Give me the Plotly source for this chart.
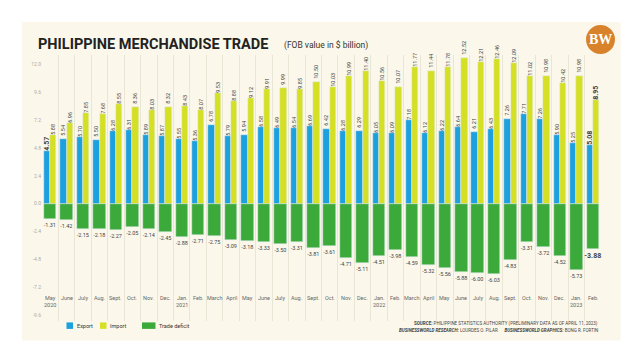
import plotly.graph_objects as go

periods = ["2020-05","2020-06","2020-07","2020-08","2020-09","2020-10","2020-11","2020-12",
           "2021-01","2021-02","2021-03","2021-04","2021-05","2021-06","2021-07","2021-08",
           "2021-09","2021-10","2021-11","2021-12","2022-01","2022-02","2022-03","2022-04",
           "2022-05","2022-06","2022-07","2022-08","2022-09","2022-10","2022-11","2022-12",
           "2023-01","2023-02"]
month_labels = ["May<br>2020","June","July","Aug.","Sept.","Oct.","Nov.","Dec.",
                "Jan.<br>2021","Feb.","March","April","May","June","July","Aug.",
                "Sept.","Oct.","Nov.","Dec.","Jan.<br>2022","Feb.","March","April",
                "May","June","July","Aug.","Sept.","Oct.","Nov.","Dec.",
                "Jan.<br>2023","Feb."]
exports = [4.57, 5.54, 5.70, 5.50, 6.28, 6.31, 5.89, 5.87,
           5.55, 5.36, 6.78, 5.79, 5.94, 6.58, 6.49, 6.54, 6.69, 6.42, 6.28, 6.29,
           6.05, 6.09, 7.18, 6.12, 6.22, 6.64, 6.21, 6.43, 7.26, 7.71, 7.26, 5.90,
           5.25, 5.08]
imports = [5.88, 6.96, 7.85, 7.68, 8.55, 8.36, 8.03, 8.32,
           8.43, 8.07, 9.53, 8.88, 9.12, 9.91, 9.99, 9.85, 10.50, 10.03, 10.99, 11.40,
           10.56, 10.07, 11.77, 11.44, 11.78, 12.52, 12.21, 12.46, 12.09, 11.02, 10.98, 10.42,
           10.98, 8.95]
deficit = [-1.31, -1.42, -2.15, -2.18, -2.27, -2.05, -2.14, -2.45,
           -2.88, -2.71, -2.75, -3.09, -3.18, -3.33, -3.50, -3.31, -3.81, -3.61, -4.71, -5.11,
           -4.51, -3.98, -4.59, -5.32, -5.56, -5.88, -6.00, -6.03, -4.83, -3.31, -3.72, -4.52,
           -5.73, -3.88]
y_ticks = [-9.6, -7.2, -4.8, -2.4, 0.0, 2.4, 4.8, 7.2, 9.6, 12.0]
series_names = ["Export", "Import", "Trade deficit"]

BLUE = "#1CA1DE"
YELLOW = "#D5E024"
GREEN = "#3BAA3A"
CREAM = "#FBF8EB"
FONT = "Roboto, Liberation Sans, sans-serif"
colors = [BLUE, YELLOW, GREEN]

n = len(periods)
def labels(vals, bold_idx):
    out = []
    for i, v in enumerate(vals):
        s = f"{v:.2f}"
        out.append(f"<b>{s}</b>" if i in bold_idx else s)
    return out
def sizes(bold_idx, base=5.5, big=7):
    return [big if i in bold_idx else base for i in range(n)]

fig = go.Figure()
fig.add_trace(go.Bar(x=periods, y=exports, name=series_names[0], marker_color=BLUE,
                     offset=-0.38, width=0.38, text=labels(exports, {0, n-1}),
                     textposition="outside", textangle=-90, cliponaxis=False,
                     textfont=dict(size=sizes({0, n-1}), color="#444", family=FONT),
                     constraintext="none"))
fig.add_trace(go.Bar(x=periods, y=imports, name=series_names[1], marker_color=YELLOW,
                     offset=0.0, width=0.38, text=labels(imports, {n-1}),
                     textposition="outside", textangle=-90, cliponaxis=False,
                     textfont=dict(size=sizes({n-1}), color="#444", family=FONT),
                     constraintext="none"))
fig.add_trace(go.Bar(x=periods, y=deficit, name=series_names[2], marker_color=GREEN,
                     offset=-0.38, width=0.76, text=labels(deficit, {n-1}),
                     textposition="outside", textangle=0, cliponaxis=False,
                     textfont=dict(size=sizes({n-1}), color="#444", family=FONT),
                     constraintext="none"))

for p, lab in zip(periods, month_labels):
    fig.add_annotation(x=p, y=-7.7, text=lab, showarrow=False, yanchor="top",
                       font=dict(size=5.5, color="#666", family=FONT))

# Title, subtitle, logo
fig.add_annotation(xref="paper", yref="paper", x=-0.01, y=1.038, xanchor="left", yanchor="middle",
                   text="<b>PHILIPPINE MERCHANDISE TRADE</b>", showarrow=False,
                   font=dict(size=14.5, color="#222", family=FONT))
fig.add_annotation(xref="paper", yref="paper", x=0.43, y=1.036, xanchor="left", yanchor="middle",
                   text="(FOB value in $ billion)", showarrow=False,
                   font=dict(size=8.5, color="#333", family=FONT))
fig.add_shape(type="rect", xref="paper", yref="paper", x0=-0.036, x1=1.035, y0=-0.073, y1=1.124,
              fillcolor=CREAM, line_width=0, layer="below")
fig.add_shape(type="circle", xref="paper", yref="paper", x0=0.9732, x1=1.0250, y0=1.0038, y1=1.1130,
              fillcolor="#D8822C", line_width=0, layer="below")
fig.add_annotation(xref="paper", yref="paper", x=0.9991, y=1.0584, text="<b>BW</b>", showarrow=False,
                   xanchor="center", yanchor="middle",
                   font=dict(size=14, color="white", family="Liberation Serif, DejaVu Serif, serif"))

# Legend (compact, like the reference)
leg_boxes = [(0.0438, 0.0555), (0.1038, 0.1154), (0.1789, 0.2030)]
leg_text_x = [0.059, 0.118, 0.2057]
for (x0, x1), tx, name, col in zip(leg_boxes, leg_text_x, series_names, colors):
    fig.add_shape(type="rect", xref="paper", yref="paper", x0=x0, x1=x1, y0=-0.0297, y1=-0.0053,
                  fillcolor=col, line_width=0)
    fig.add_annotation(xref="paper", yref="paper", x=tx, y=-0.0177, xanchor="left", yanchor="middle",
                       text=name, showarrow=False, font=dict(size=5.5, color="#333", family=FONT))

# Source
fig.add_annotation(xref="paper", yref="paper", x=0.998, y=-0.008, xanchor="right", yanchor="middle",
                   text="<b>SOURCE:</b> PHILIPPINE STATISTICS AUTHORITY (PRELIMINARY DATA AS OF APRIL 11, 2023)",
                   showarrow=False, font=dict(size=4.5, color="#444", family=FONT))
fig.add_annotation(xref="paper", yref="paper", x=0.998, y=-0.034, xanchor="right", yanchor="middle",
                   text="<b><i>BUSINESSWORLD RESEARCH:</i></b> LOURDES O. PILAR&nbsp;&nbsp;&nbsp;&nbsp;&nbsp;&nbsp;<b><i>BUSINESSWORLD GRAPHICS:</i></b> BONG R. FORTIN",
                   showarrow=False, font=dict(size=4.5, color="#444", family=FONT))

fig.update_layout(
    width=640, height=360,
    margin=dict(l=34, r=47, t=47, b=47),
    paper_bgcolor="white", plot_bgcolor="rgba(0,0,0,0)",
    barmode="overlay", bargap=0,
    showlegend=False,
    xaxis=dict(type="category", showticklabels=False, showgrid=True, gridcolor="#EAE6D6",
               gridwidth=1, tickson="boundaries", ticks="", zeroline=False, showline=False,
               range=[-0.5, n - 0.5]),
    yaxis=dict(range=[-10.1, 12.8], tickvals=y_ticks, ticktext=[f"{t:.1f}" for t in y_ticks],
               showgrid=False, zeroline=False, showline=False,
               tickfont=dict(size=5, color="#AAA", family=FONT)),
    font=dict(family=FONT),
)

fig.write_html("out.html")
